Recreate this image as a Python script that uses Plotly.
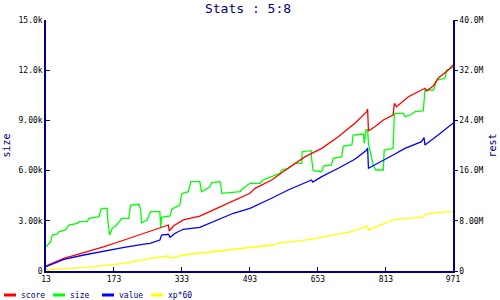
import plotly.graph_objects as go

# ---- data ----
size_x = [13, 24, 28, 40, 44, 59, 67, 87, 91, 110, 114, 138, 142, 146, 157, 159, 163, 169, 177, 189,
          190, 208, 212, 232, 236, 238, 251, 259, 281, 283, 285, 305, 309, 328, 332, 348, 354, 375, 379,
          399, 403, 423, 427, 446, 470, 474, 493, 517, 524, 544, 564, 568, 583, 599, 615, 616, 637, 638,
          642, 662, 666, 685, 689, 709, 713, 733, 736, 760, 762, 766, 770, 772, 776, 783, 789, 807, 809,
          830, 833, 854, 858, 870, 882, 901, 905, 925, 933, 952, 956, 968, 971]
size_y = [1452, 1751, 2151, 2211, 2349, 2450, 2749, 2851, 2946, 2946, 3149, 3245, 3687, 3747, 3747, 2868,
          2151, 2552, 2689, 3048, 3149, 3149, 3944, 3986, 3645, 2886, 3048, 3544, 3544, 2552, 3209, 3287,
          3687, 3944, 4602, 4739, 5337, 5337, 4739, 5038, 5277, 5337, 4643, 4703, 4739, 4882, 5241, 5241,
          5438, 5635, 5838, 6036, 6137, 6436, 6436, 7129, 7189, 6735, 5994, 5934, 6275, 6335, 6735, 6831,
          7470, 7530, 8127, 8187, 7631, 8426, 8426, 7631, 7129, 6335, 6036, 6036, 7231, 7333, 9424, 9424,
          9221, 9323, 9520, 9562, 10817, 10817, 11414, 11516, 12012, 12113, 12209]

score_x = [13, 55, 102, 150, 197, 244, 258, 281, 301, 303, 313, 336, 375, 415, 454, 493, 505, 544, 583,
           623, 662, 701, 740, 768, 770, 772, 787, 807, 830, 833, 838, 866, 897, 905, 909, 925, 936, 960, 971]
score_y = [0.80, 2.02, 2.92, 3.87, 4.94, 6.01, 6.42, 6.96, 7.33, 6.37, 7.17, 8.13, 8.76, 9.99, 11.20, 12.38,
           13.18, 14.50, 16.37, 18.22, 19.55, 21.40, 23.54, 25.39, 25.82, 22.31, 23.00, 24.06, 24.86, 26.72,
           26.18, 27.78, 28.84, 29.12, 28.69, 29.53, 30.71, 32.03, 32.83]

value_x = [13, 55, 102, 150, 197, 244, 258, 281, 285, 301, 305, 317, 336, 375, 415, 454, 493, 505, 544,
           583, 623, 638, 641, 662, 701, 740, 768, 770, 772, 787, 807, 830, 858, 897, 903, 905, 936, 971]
value_y = [0.69, 1.86, 2.55, 3.19, 3.78, 4.30, 4.41, 4.94, 5.74, 5.85, 5.37, 6.01, 6.65, 6.96, 8.13, 9.20,
           9.99, 10.36, 11.59, 12.91, 13.98, 14.50, 14.18, 15.03, 16.37, 17.80, 19.28, 19.60, 16.37, 16.89,
           17.69, 18.49, 19.55, 20.61, 21.24, 20.08, 21.67, 23.54]

xp_x = [13, 102, 197, 258, 301, 305, 336, 415, 470, 505, 544, 568, 615, 646, 693, 733, 764, 769, 772,
        830, 858, 901, 905, 936, 971]
xp_y = [0.16, 0.53, 1.23, 2.02, 2.39, 2.02, 2.55, 3.19, 3.62, 3.87, 4.14, 4.51, 4.83, 5.21, 5.74, 6.26,
        7.06, 7.17, 6.53, 8.13, 8.40, 8.56, 9.04, 9.35, 9.45]

x_ticks = [13, 173, 333, 493, 653, 813, 971]
left_ticks = [0, 3000, 6000, 9000, 12000, 15000]
left_labels = ["0", "3.00k", "6.00k", "9.00k", "12.0k", "15.0k"]
right_ticks = [0, 8e6, 16e6, 24e6, 32e6, 40e6]
right_labels = ["0", "8.00M", "16.0M", "24.0M", "32.0M", "40.0M"]

legend_names = ["score", "size", "value", "xp*60"]
legend_colors = ["#ff0000", "#00ff00", "#0000ff", "#ffff00"]

NAVY = "#000080"
MONO = "DejaVu Sans Mono"
LW = 1.3

fig = go.Figure()
fig.add_trace(go.Scatter(x=score_x, y=[v * 1e6 for v in score_y], name="score", mode="lines",
                         line=dict(color=legend_colors[0], width=LW), yaxis="y2"))
fig.add_trace(go.Scatter(x=size_x, y=size_y, name="size", mode="lines",
                         line=dict(color=legend_colors[1], width=LW), yaxis="y"))
fig.add_trace(go.Scatter(x=value_x, y=[v * 1e6 for v in value_y], name="value", mode="lines",
                         line=dict(color=legend_colors[2], width=LW), yaxis="y2"))
fig.add_trace(go.Scatter(x=xp_x, y=[v * 1e6 for v in xp_y], name="xp*60", mode="lines",
                         line=dict(color=legend_colors[3], width=LW), yaxis="y2"))

# compact legend below the plot
lx = [4, 53, 102, 151]
shapes = []
annotations = []
ly = (271 - 295) / 251
for i, (nm, col) in enumerate(zip(legend_names, legend_colors)):
    x0 = lx[i]
    shapes.append(dict(type="line", xref="paper", yref="paper",
                       x0=(x0 - 46) / 407, x1=(x0 + 12 - 46) / 407, y0=ly, y1=ly,
                       line=dict(color=col, width=3)))
    annotations.append(dict(xref="paper", yref="paper", x=(x0 + 15 - 46) / 407, y=ly,
                            text=nm, showarrow=False, xanchor="left", yanchor="middle",
                            font=dict(family=MONO, size=8, color=NAVY)))

fig.update_layout(
    width=500, height=300,
    margin=dict(l=46, r=47, t=20, b=29, autoexpand=False),
    paper_bgcolor="white", plot_bgcolor="white",
    showlegend=False,
    title=dict(text="Stats : 5:8", x=0.496, xanchor="center", y=0.972, yanchor="middle",
               font=dict(family=MONO, size=13, color=NAVY)),
    xaxis=dict(range=[13, 971], tickvals=x_ticks, ticktext=[str(t) for t in x_ticks],
               showgrid=False, zeroline=False, showline=True, linecolor=NAVY, linewidth=1.5,
               ticks="inside", ticklen=4, tickcolor=NAVY, automargin=False,
               tickfont=dict(family=MONO, size=8, color="black")),
    yaxis=dict(range=[0, 15000], tickvals=left_ticks, ticktext=left_labels,
               showgrid=False, zeroline=False, showline=True, linecolor=NAVY, linewidth=1.5,
               ticks="inside", ticklen=4, tickcolor=NAVY, automargin=False,
               tickfont=dict(family=MONO, size=8, color="black"),
               title=dict(text="size", font=dict(family=MONO, size=10, color=NAVY), standoff=6)),
    yaxis2=dict(range=[0, 40e6], tickvals=right_ticks, ticktext=right_labels, overlaying="y", side="right",
                showgrid=False, zeroline=False, showline=True, linecolor=NAVY, linewidth=1.5,
                ticks="outside", ticklen=3, tickcolor=NAVY, automargin=False,
                tickfont=dict(family=MONO, size=8, color="black"),
                title=dict(text="rest", font=dict(family=MONO, size=10, color=NAVY), standoff=6)),
    shapes=shapes,
    annotations=annotations,
)

fig.write_html("out.html")
